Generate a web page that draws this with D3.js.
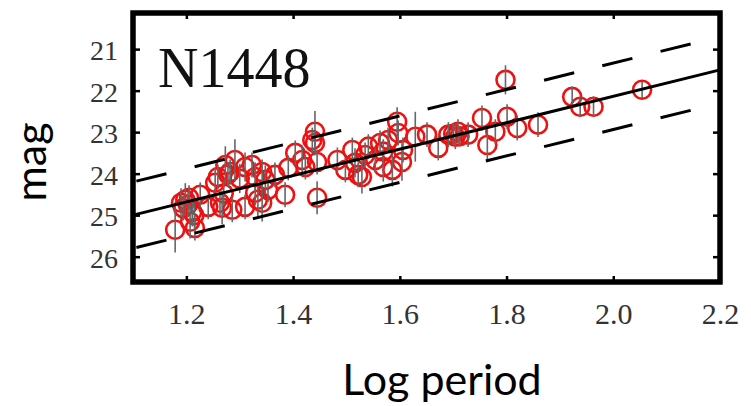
<!DOCTYPE html>
<html>
<head>
<meta charset="utf-8">
<script src="https://cdn.jsdelivr.net/npm/d3@7"></script>
<style>
  body { margin: 0; background: #fff; }
  svg { display: block; }
  .tick text { font-family: "Liberation Serif", "Times New Roman", serif; }
</style>
</head>
<body>
<svg width="751" height="406"></svg>
<script>
const svg = d3.select('svg');

// data
const logPeriod = [1.179, 1.198, 1.203, 1.194, 1.211, 1.207, 1.216, 1.226, 1.241, 1.254,
  1.259, 1.273, 1.282, 1.291, 1.263, 1.267, 1.286, 1.310, 1.323, 1.329,
  1.334, 1.310, 1.342, 1.348, 1.353, 1.329, 1.342, 1.366, 1.385, 1.391,
  1.404, 1.417, 1.423, 1.436, 1.441, 1.441, 1.445, 1.445, 1.483, 1.498,
  1.511, 1.516, 1.522, 1.529, 1.535, 1.541, 1.554, 1.563, 1.569, 1.569,
  1.578, 1.586, 1.595, 1.597, 1.604, 1.606, 1.629, 1.651, 1.672, 1.691,
  1.704, 1.709, 1.728, 1.754, 1.764, 1.779, 1.798, 1.801, 1.820, 1.859,
  1.923, 1.938, 1.963, 2.054,
  1.190, 1.205, 1.215, 1.278, 1.300, 1.270, 1.700, 1.712];
const mag = [25.35, 24.63, 24.75, 24.83, 24.92, 25.16, 25.31, 24.51, 24.80, 24.22,
  24.08, 23.79, 23.96, 23.67, 24.70, 24.82, 24.87, 23.84, 23.79, 24.08,
  24.63, 24.80, 23.96, 24.15, 24.39, 24.46, 24.70, 24.03, 24.51, 23.86,
  23.50, 23.67, 23.84, 23.19, 22.99, 23.26, 23.72, 24.58, 23.67, 23.91,
  23.43, 23.74, 24.03, 24.08, 23.55, 23.35, 23.67, 23.26, 23.47, 23.84,
  23.19, 23.91, 22.75, 23.02, 23.72, 23.43, 23.11, 23.06, 23.38, 23.06,
  23.11, 22.99, 23.06, 22.66, 23.31, 22.99, 21.74, 22.63, 22.90, 22.82,
  22.15, 22.39, 22.39, 21.98,
  24.70, 24.58, 25.00, 24.02, 24.12, 24.48, 23.04, 23.10];
const magErr = [0.55, 0.4, 0.3, 0.3, 0.35, 0.4, 0.3, 0.3, 0.3, 0.35,
  0.3, 0.45, 0.3, 0.5, 0.3, 0.4, 0.3, 0.35, 0.3, 0.35,
  0.4, 0.3, 0.3, 0.35, 0.3, 0.3, 0.45, 0.3, 0.3, 0.3,
  0.3, 0.35, 0.3, 0.3, 0.5, 0.3, 0.3, 0.4, 0.3, 0.3,
  0.3, 0.35, 0.3, 0.4, 0.3, 0.3, 0.3, 0.3, 0.3, 0.35,
  0.3, 0.4, 0.35, 0.3, 0.45, 0.3, 0.6, 0.3, 0.3, 0.3,
  0.3, 0.3, 0.3, 0.3, 0.4, 0.3, 0.35, 0.3, 0.3, 0.3,
  0.25, 0.25, 0.25, 0.2,
  0.35, 0.3, 0.3, 0.3, 0.35, 0.3, 0.25, 0.25];

const fitX = [1.1, 2.2];
const fitMag = [25.0, 21.5];
const bandOffset = 0.8;
const bandEnd = 2.145;

const xTicks = [1.2, 1.4, 1.6, 1.8, 2.0, 2.2];
const yTicks = [21, 22, 23, 24, 25, 26];
const xDomain = [1.1, 2.2];
const yDomain = [20.13, 26.61];

const margin = { top: 13, right: 31, bottom: 124, left: 133 };
const width = 751, height = 406;
const innerWidth = width - margin.left - margin.right;
const innerHeight = height - margin.top - margin.bottom;

const xScale = d3.scaleLinear().domain(xDomain).range([0, innerWidth]);
const yScale = d3.scaleLinear().domain(yDomain).range([0, innerHeight]);

const g = svg.append('g').attr('transform', `translate(${margin.left},${margin.top})`);

const data = logPeriod.map((p, i) => ({ p, m: mag[i], e: magErr[i] }));

// points
g.append('g').selectAll('circle').data(data)
  .enter().append('circle')
  .attr('cx', d => xScale(d.p))
  .attr('cy', d => yScale(d.m))
  .attr('r', 9)
  .attr('fill', 'none')
  .attr('stroke', '#ee1111')
  .attr('stroke-width', 2.6);

// error bars
g.append('g').selectAll('line').data(data)
  .enter().append('line')
  .attr('x1', d => xScale(d.p))
  .attr('x2', d => xScale(d.p))
  .attr('y1', d => yScale(d.m - d.e))
  .attr('y2', d => yScale(d.m + d.e))
  .attr('stroke', '#666')
  .attr('stroke-width', 1.6);

// fit line and dashed band
const slope = (fitMag[1] - fitMag[0]) / (fitX[1] - fitX[0]);
const fit = p => fitMag[0] + slope * (p - fitX[0]);

g.append('line')
  .attr('x1', xScale(fitX[0])).attr('y1', yScale(fit(fitX[0])))
  .attr('x2', xScale(fitX[1])).attr('y2', yScale(fit(fitX[1])))
  .attr('stroke', '#000').attr('stroke-width', 3);

[-bandOffset, bandOffset].forEach(off => {
  g.append('line')
    .attr('x1', xScale(bandEnd)).attr('y1', yScale(fit(bandEnd) + off))
    .attr('x2', xScale(fitX[0])).attr('y2', yScale(fit(fitX[0]) + off))
    .attr('stroke', '#000').attr('stroke-width', 3)
    .attr('stroke-dasharray', '31,29');
});

// axes, ticks pointing inward
const styleAxis = sel => {
  sel.select('.domain').remove();
  sel.selectAll('.tick line').attr('stroke', '#000').attr('stroke-width', 2.5);
  sel.selectAll('.tick text').attr('fill', '#333');
};
const dropLabels = sel => sel.selectAll('.tick text').remove();

const xAxisBottom = g.append('g')
  .attr('transform', `translate(0,${innerHeight})`)
  .call(d3.axisBottom(xScale).tickValues(xTicks).tickFormat(d3.format('.1f')).tickSize(-6))
  .call(styleAxis);
xAxisBottom.selectAll('.tick text')
  .attr('y', 42).attr('dy', 0).style('font-size', '30px');

g.append('g')
  .call(d3.axisTop(xScale).tickValues(xTicks).tickSize(-6))
  .call(styleAxis).call(dropLabels);

const yAxisLeft = g.append('g')
  .call(d3.axisLeft(yScale).tickValues(yTicks).tickFormat(d3.format('d')).tickSize(-7).tickPadding(15))
  .call(styleAxis);
yAxisLeft.selectAll('.tick text').style('font-size', '28px').attr('dy', '0.38em');

g.append('g')
  .attr('transform', `translate(${innerWidth},0)`)
  .call(d3.axisRight(yScale).tickValues(yTicks).tickSize(-7))
  .call(styleAxis).call(dropLabels);

// frame
g.append('rect')
  .attr('width', innerWidth).attr('height', innerHeight)
  .attr('fill', 'none').attr('stroke', '#000').attr('stroke-width', 5.5);

// panel label
g.append('text')
  .attr('x', 25).attr('y', 74)
  .attr('font-family', '"Liberation Serif", "Times New Roman", serif')
  .attr('font-size', 56).attr('fill', '#111')
  .text('N1448');

// axis titles
svg.append('text')
  .attr('x', 442).attr('y', 395)
  .attr('text-anchor', 'middle')
  .attr('font-family', 'Lato, sans-serif').attr('font-size', 43)
  .text('Log period');

svg.append('text')
  .attr('transform', 'translate(46,162) rotate(-90)')
  .attr('text-anchor', 'middle')
  .attr('font-family', 'Lato, sans-serif').attr('font-size', 43)
  .text('mag');
</script>
</body>
</html>
